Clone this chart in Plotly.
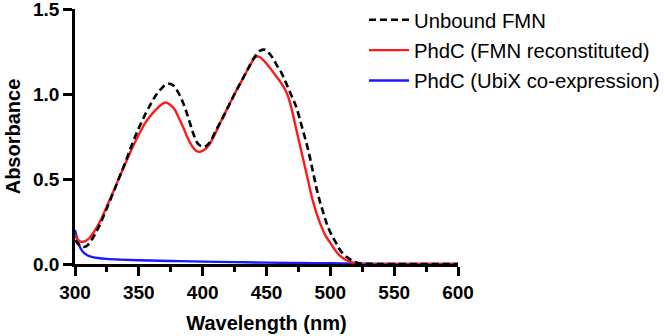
import plotly.graph_objects as go

# Unbound FMN (black dashed)
wl_fmn = [300, 303, 306, 309, 312, 316, 320, 325, 330, 335, 340, 345, 350, 355, 360, 364, 368, 371, 374, 377, 380, 384, 387, 390, 393, 396, 400, 403, 406, 410, 415, 420, 425, 430, 435, 440, 445, 449, 452, 455, 458, 462, 465, 469, 473, 478, 483, 487, 491, 495, 498, 501, 504, 507, 510, 514, 517, 521, 525, 540, 560, 580, 600]
abs_fmn = [0.14, 0.115, 0.10, 0.105, 0.13, 0.18, 0.24, 0.33, 0.42, 0.515, 0.61, 0.71, 0.80, 0.88, 0.95, 1.00, 1.035, 1.055, 1.06, 1.05, 1.02, 0.96, 0.90, 0.83, 0.76, 0.71, 0.69, 0.695, 0.72, 0.78, 0.85, 0.925, 1.00, 1.07, 1.14, 1.21, 1.255, 1.26, 1.24, 1.21, 1.17, 1.12, 1.07, 1.00, 0.93, 0.80, 0.66, 0.52, 0.39, 0.29, 0.22, 0.17, 0.13, 0.09, 0.06, 0.035, 0.02, 0.008, 0.003, 0.0, 0.0, 0.0, 0.0]

# PhdC (FMN reconstituted) (red)
wl_rec = [300, 302, 305, 308, 311, 315, 320, 325, 330, 335, 340, 345, 350, 355, 360, 365, 368, 371, 374, 378, 381, 385, 388, 392, 395, 398, 401, 405, 410, 415, 420, 425, 430, 435, 438, 441, 444, 448, 452, 457, 461, 465, 468, 471, 474, 478, 482, 486, 490, 493, 496, 499, 503, 506, 509, 512, 516, 520, 524, 540, 560, 580, 600]
abs_rec = [0.17, 0.145, 0.13, 0.135, 0.15, 0.19, 0.255, 0.34, 0.425, 0.515, 0.60, 0.685, 0.76, 0.83, 0.88, 0.92, 0.94, 0.95, 0.94, 0.91, 0.865, 0.80, 0.745, 0.69, 0.665, 0.66, 0.67, 0.70, 0.77, 0.85, 0.925, 1.00, 1.07, 1.14, 1.18, 1.215, 1.22, 1.195, 1.16, 1.11, 1.07, 1.02, 0.96, 0.87, 0.77, 0.64, 0.51, 0.38, 0.28, 0.22, 0.17, 0.135, 0.09, 0.06, 0.04, 0.025, 0.012, 0.005, 0.0, 0.0, 0.0, 0.0, 0.0]

# PhdC (UbiX co-expression) (blue)
wl_ubix = [300, 301, 302, 303, 305, 307, 310, 314, 318, 325, 335, 350, 375, 400, 425, 450, 475, 500, 525, 550, 575, 600]
abs_ubix = [0.20, 0.17, 0.14, 0.115, 0.085, 0.065, 0.05, 0.04, 0.035, 0.03, 0.026, 0.022, 0.018, 0.014, 0.011, 0.008, 0.006, 0.004, 0.002, 0.001, 0.0005, 0.0]

x_ticks = [300, 350, 400, 450, 500, 550, 600]
y_ticks = [0.0, 0.5, 1.0, 1.5]
y_tick_labels = ["0.0", "0.5", "1.0", "1.5"]

FONT = "Arial, Liberation Sans, Helvetica, sans-serif"

fig = go.Figure()
fig.add_trace(go.Scatter(x=wl_ubix, y=abs_ubix, mode="lines", name="PhdC (UbiX co-expression)",
                         legendgroup="c", line=dict(color="#1a1aff", width=2.4, shape="spline"), legendrank=3))
fig.add_trace(go.Scatter(x=wl_rec, y=abs_rec, mode="lines", name="PhdC (FMN reconstituted)",
                         legendgroup="b", line=dict(color="#ff1a1a", width=2.4, shape="spline"), legendrank=2))
fig.add_trace(go.Scatter(x=wl_fmn, y=abs_fmn, mode="lines", name="Unbound FMN",
                         legendgroup="a", line=dict(color="black", width=2.6, dash="7px,4px", shape="spline"), legendrank=1))

# paper area: x 75..459 (384 px), y 0..264 (264 px); plot area top at 9 px via y domain
fig.update_layout(
    width=665, height=336,
    margin=dict(l=75, r=206, t=0, b=72),
    paper_bgcolor="white", plot_bgcolor="white",
    font=dict(family=FONT, color="black"),
    showlegend=True,
    legend=dict(x=0.7552, y=1.0, xanchor="left", yanchor="top",
                font=dict(size=20.3, family=FONT, color="black"),
                bgcolor="rgba(0,0,0,0)", itemwidth=40, tracegroupgap=1),
    xaxis=dict(range=[300, 600], tickvals=x_ticks, showgrid=False, zeroline=False,
               showline=True, linecolor="black", linewidth=2.5,
               ticks="outside", ticklen=9, tickwidth=2.5, tickcolor="black",
               tickfont=dict(size=19, family=FONT, weight="bold"), ticklabeloverflow="allow",
               minor=dict(dtick=25, ticks="outside", ticklen=5, tickwidth=2.5, tickcolor="black", showgrid=False),
               title=dict(text="Wavelength (nm)", font=dict(size=20, family=FONT, weight="bold"), standoff=15),
               automargin=False),
    yaxis=dict(range=[0, 1.5], domain=[0, 255 / 264], tickvals=y_ticks, ticktext=y_tick_labels,
               showgrid=False, zeroline=False,
               showline=True, linecolor="black", linewidth=2.5,
               ticks="outside", ticklen=9, tickwidth=2.5, tickcolor="black",
               tickfont=dict(size=19, family=FONT, weight="bold"), ticklabeloverflow="allow",
               title=dict(text="Absorbance", font=dict(size=20, family=FONT, weight="bold"), standoff=8),
               automargin=False),
)

fig.write_html("out.html")
